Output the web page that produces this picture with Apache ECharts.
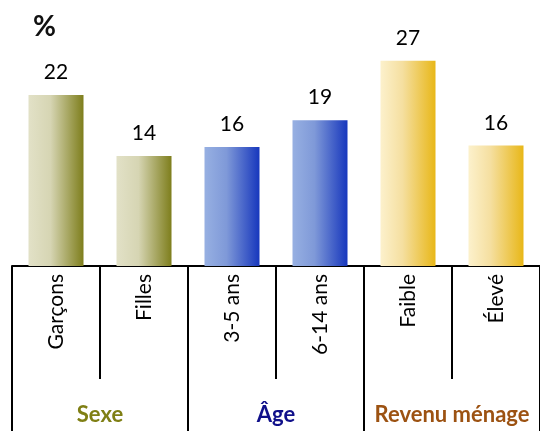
<!DOCTYPE html>
<html>
<head>
<meta charset="utf-8">
<script src="https://cdn.jsdelivr.net/npm/echarts@6/dist/echarts.min.js"></script>
<style>
html,body{margin:0;padding:0;background:#fff;}
#chart{width:540px;height:431px;}
</style>
</head>
<body>
<div id="chart"></div>
<script>
// Data
const categories = ['Garçons', 'Filles', '3-5 ans', '6-14 ans', 'Faible', 'Élevé'];
const values = [22.4, 14.4, 15.6, 19.1, 26.9, 15.8];
const groups = ['Sexe', 'Âge', 'Revenu ménage'];
const groupOfCategory = [0, 0, 1, 1, 2, 2];

// Styles
const gradients = [
  ['#e2e1c7', '#d6d5b3', '#7e7e1c'],
  ['#97b0e2', '#7f99d8', '#1737bd'],
  ['#fcf1cc', '#f5dfa0', '#e8b718']
];
const groupColors = ['#7f7f14', '#10108a', '#9c5212'];
const FONT = 'Lato';

function grad(g) {
  const c = gradients[g];
  return new echarts.graphic.LinearGradient(0, 0, 1, 0, [
    { offset: 0, color: c[0] },
    { offset: 0.4, color: c[1] },
    { offset: 1, color: c[2] }
  ]);
}

const chart = echarts.init(document.getElementById('chart'));
const rich = {};
groups.forEach((g, i) => {
  rich['g' + i] = { color: groupColors[i], fontWeight: 'bold', fontSize: 22, fontFamily: FONT };
});

chart.setOption({
  animation: false,
  title: {
    text: '%', left: 28, top: 8,
    textStyle: { fontSize: 28, fontWeight: 'bold', color: '#111', fontFamily: FONT }
  },
  grid: { left: 12, right: -2, top: 37, bottom: 165, containLabel: false },
  xAxis: [
    {
      type: 'category', data: categories, position: 'bottom',
      axisLine: { show: true, lineStyle: { color: '#000', width: 2 } },
      axisTick: { show: true, length: 113, lineStyle: { color: '#000', width: 2 } },
      axisLabel: { rotate: 90, fontSize: 21, color: '#000', fontFamily: FONT, margin: 8, interval: 0 }
    },
    {
      type: 'category', data: groups, position: 'bottom',
      axisLine: { show: false },
      axisTick: { show: true, length: 170, lineStyle: { color: '#000', width: 2 } },
      axisLabel: {
        margin: 138, interval: 0,
        formatter: (v, i) => '{g' + i + '|' + v + '}', rich: rich
      }
    }
  ],
  yAxis: { type: 'value', min: 0, max: 30, show: false, splitLine: { show: false } },
  series: [{
    type: 'bar', xAxisIndex: 0, barWidth: 55,
    data: values.map((v, i) => ({ value: v, itemStyle: { color: grad(groupOfCategory[i]) } })),
    label: {
      show: true, position: 'top', distance: 12,
      fontSize: 21, color: '#000', fontFamily: FONT,
      formatter: p => Math.round(p.value)
    }
  }]
});
</script>
</body>
</html>
